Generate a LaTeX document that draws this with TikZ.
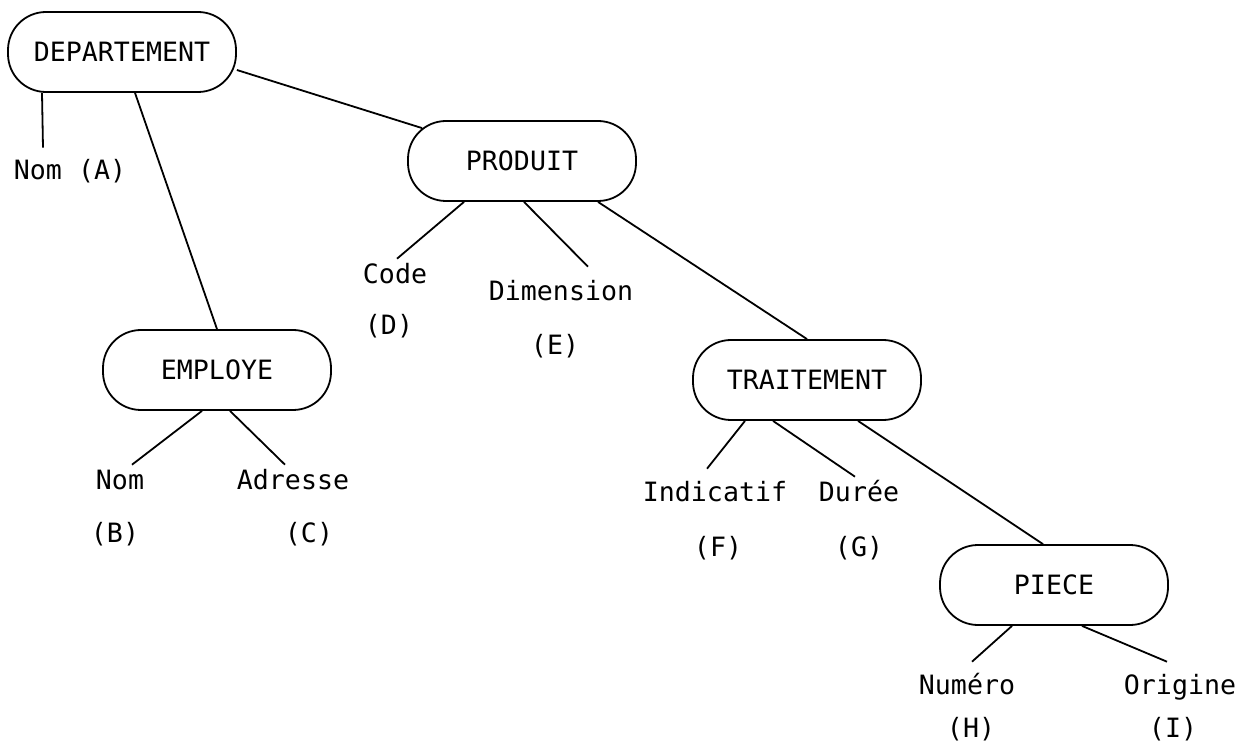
\documentclass[tikz,border=0pt]{standalone}
\usepackage{fontspec}
\usepackage{tikz}
\newfontfamily\typew{DejaVu Sans Mono}

\begin{document}
\begin{tikzpicture}[x=0.5pt,y=-0.5pt,line width=0.9pt,
  ent/.style={draw,rounded corners=19pt,minimum width=114pt,
              minimum height=40pt,inner sep=2pt,font=\typew\fontsize{13.3}{16}\selectfont},
  att/.style={inner sep=2pt,text height=9.8pt,text depth=2.6pt,
              font=\typew\fontsize{13.3}{16}\selectfont}]

  \useasboundingbox (0,0) rectangle (1252,748);

  % entities (pixel coordinates, y downwards)
  \node[ent] (dep)   at (122,52)   {DEPARTEMENT};
  \node[ent] (prod)  at (522,161)  {PRODUIT};
  \node[ent] (emp)   at (217,370)  {EMPLOYE};
  \node[ent] (trait) at (807,380)  {TRAITEMENT};
  \node[ent] (piece) at (1054,585) {PIECE};

  % attributes and their letters
  \node[att] (nomA) at (70,172) {Nom (A)};
  \foreach \nm/\txt/\xx/\yy/\lx/\ly/\lt in {
      code/Code/395/276/389/327/D, dim/Dimension/561/293/555/347/E,
      nomB/Nom/120/482/115/535/B, adr/Adresse/293/482/309/535/C,
      ind/Indicatif/715/494/718/549/F, dur/Durée/859/494/859/549/G,
      num/Numéro/967/687/971/730/H, ori/Origine/1180/687/1173/730/I} {
    \node[att] (\nm) at (\xx,\yy) {\txt};
    \node[att] (\nm L) at (\lx,\ly) {(\lt)};
  }

  % links between entities
  \draw ([yshift=-9pt]dep.east) -- ([xshift=7.5pt,yshift=-4pt]prod.north west);
  \draw ([xshift=6.5pt]dep.south) -- (emp.north);
  \draw ([xshift=38pt]prod.south) -- (trait.north);
  \draw ([xshift=25.5pt]trait.south) -- ([xshift=-5.5pt]piece.north);

  % links to attributes
  \draw ([xshift=-40pt]dep.south) -- ([xshift=-13.5pt,yshift=3.5pt]nomA.north);
  \draw ([xshift=-29pt]prod.south) -- ([xshift=1pt]code.north);
  \draw ([xshift=1pt]prod.south) -- ([xshift=13.5pt,yshift=4.5pt]dim.north);
  \draw ([xshift=-7.5pt]emp.south) -- ([xshift=6pt]nomB.north);
  \draw ([xshift=6.5pt]emp.south) -- ([xshift=-4pt]adr.north);
  \draw ([xshift=-31pt]trait.south) -- ([xshift=-4pt,yshift=4pt]ind.north);
  \draw ([xshift=-17pt]trait.south) -- ([xshift=-2pt]dur.north);
  \draw ([xshift=-21pt]piece.south) -- ([xshift=2.5pt,yshift=4pt]num.north);
  \draw ([xshift=14pt]piece.south) -- ([xshift=-6.5pt,yshift=4pt]ori.north);

\end{tikzpicture}
\end{document}
